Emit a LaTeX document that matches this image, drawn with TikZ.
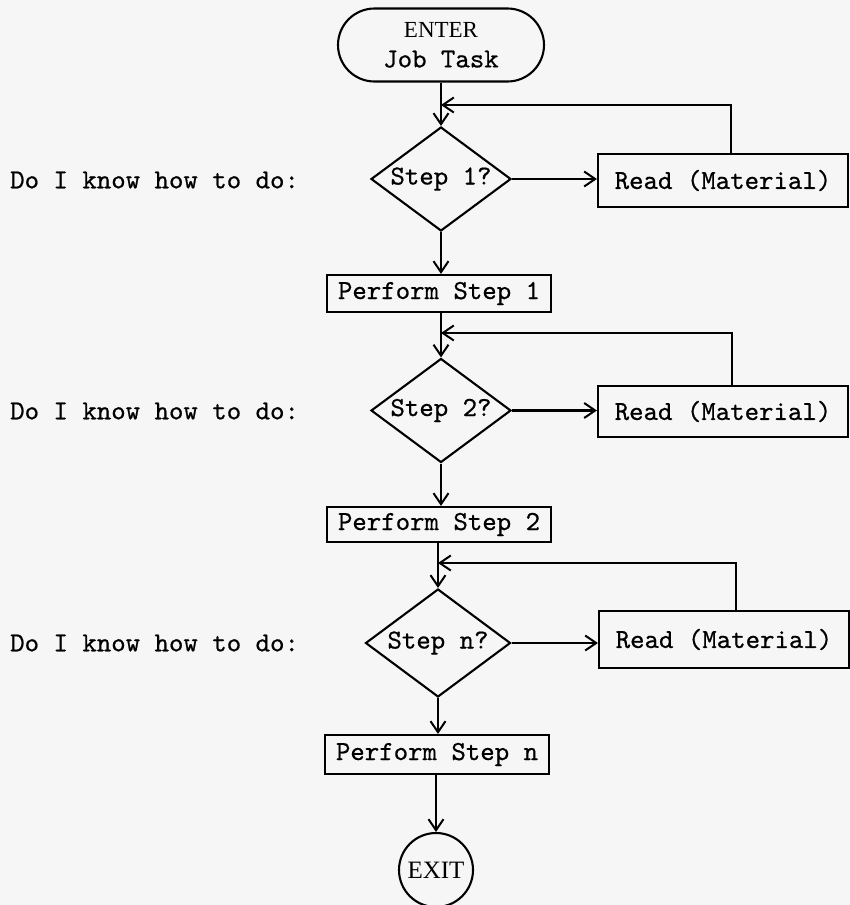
\documentclass[tikz,border=0pt]{standalone}
\usepackage{fontspec}
\setmonofont{lmmono10-regular.otf}[FakeBold=0.6]
\newfontfamily\enterfont{Liberation Serif}
\usetikzlibrary{shapes.geometric,shapes.misc,arrows.meta}
\definecolor{paper}{rgb}{0.965,0.965,0.965}
\begin{document}
\begin{tikzpicture}[x=1pt,y=-1pt,
  every node/.style={font=\ttfamily\fontsize{27.5}{30}\selectfont, inner sep=0pt},
  ln/.style={line width=2.1pt, line join=miter},
  arr/.style={ln, -{Straight Barb[length=11pt,width=15pt,line width=2pt]}},
  decision/.style={ln, draw, shape=diamond, aspect=1.35, minimum width=140pt, minimum height=104pt},
  readbox/.style={ln, draw, rectangle, minimum width=250pt, minimum height=53pt},
  perfbox/.style={ln, draw, rectangle, minimum width=224pt, minimum height=37pt},
  question/.style={anchor=west},
  term/.style={ln, draw, shape=rounded rectangle, minimum width=206pt, minimum height=73pt, align=center},
  exitc/.style={ln, draw, circle, minimum size=74pt, font=\enterfont\fontsize{25}{28}\selectfont}
]
\fill[paper] (0,0) rectangle (850,905);
\useasboundingbox (0,0) rectangle (850,905);

% start
\node[term] (enter) at (441,45) {{\enterfont\fontsize{23}{30}\selectfont ENTER}\\Job Task};

% step 1
\coordinate (j1) at (441,105);
\node[decision] (d1) at (441,179) {Step 1?};
\node[readbox] (r1) at (723,180.5) {Read (Material)};
\node[perfbox] (p1) at (439,293.5) {Perform Step 1};
\node[question] (q1) at (10,180) {Do I know how to do:};

% step 2
\coordinate (j2) at (441,333);
\node[decision] (d2) at (441,410.5) {Step 2?};
\node[readbox, minimum height=51pt] (r2) at (723,411.5) {Read (Material)};
\node[perfbox, minimum height=35pt] (p2) at (439,524.5) {Perform Step 2};
\node[question] (q2) at (10,411) {Do I know how to do:};

% step n
\coordinate (j3) at (441,563);
\node[decision, minimum width=145pt, minimum height=108pt] (d3) at (438,643) {Step n?};
\node[readbox, minimum height=57pt] (r3) at (724,639.5) {Read (Material)};
\node[perfbox, minimum height=39pt] (p3) at (437,754.5) {Perform Step n};
\node[question] (q3) at (10,643) {Do I know how to do:};

% exit
\node[exitc] (exit) at (436,870) {EXIT};

% connectors
\draw[arr] (enter.south) -- (d1.north);
\draw[arr] (d1.east) -- (d1.east -| r1.west);
\draw[arr] ([xshift=8pt]r1.north) |- (j1);
\draw[arr] (d1.south) -- (p1.north -| d1.south);

\draw[arr] (p1.south -| d2.north) -- (d2.north);
\draw[arr] (d2.east) -- (d2.east -| r2.west);
\draw[arr] ([xshift=9pt]r2.north) |- (j2);
\draw[arr] (d2.south) -- (p2.north -| d2.south);

\draw[arr] (p2.south -| d3.north) -- (d3.north);
\draw[arr] (d3.east) -- (d3.east -| r3.west);
\draw[arr] ([xshift=12pt]r3.north) |- (j3 -| d3.north);
\draw[arr] (d3.south) -- (p3.north -| d3.south);

\draw[arr] (p3.south -| exit.north) -- (exit.north);
\end{tikzpicture}
\end{document}
